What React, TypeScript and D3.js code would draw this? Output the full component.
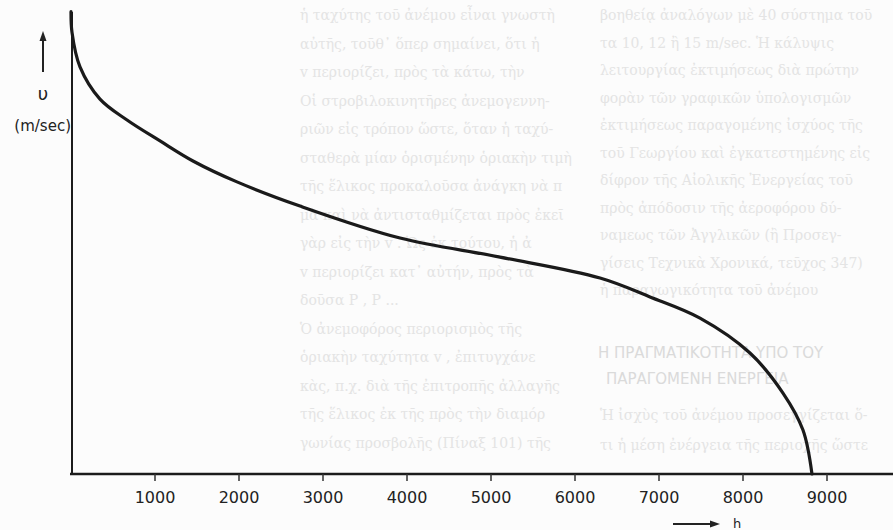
import React from "react";
import * as d3 from "d3";

// Velocity-duration curve: h (hours) vs υ (m/sec)
const hValues = [0, 12, 107, 345, 667, 1060, 1452, 1976, 2726, 3917, 5107, 6298, 6893, 7488, 8083, 8476, 8714, 8821];
const vValues = [20.1, 19.2, 17.7, 16.3, 15.39, 14.48, 13.61, 12.7, 11.65, 10.26, 9.43, 8.52, 7.7, 6.78, 5.26, 3.52, 1.91, 0];
const xTicks = [1000, 2000, 3000, 4000, 5000, 6000, 7000, 8000, 9000];
const yLabel = "υ";
const yUnit = "(m/sec)";
const xLabel = "h";

// faint show-through text of the printed page
const midColumn = [
  "ἡ ταχύτης τοῦ ἀνέμου εἶναι γνωστὴ",
  "αὐτῆς, τοῦθ᾽ ὅπερ σημαίνει, ὅτι ἡ",
  "v  περιορίζει, πρὸς τὰ κάτω, τὴν",
  "  Οἱ στροβιλοκινητῆρες ἀνεμογεννη-",
  "ριῶν εἰς τρόπον ὥστε, ὅταν ἡ ταχύ-",
  "σταθερὰ μίαν ὁρισμένην ὁριακὴν τιμὴ",
  "τῆς ἕλικος προκαλοῦσα ἀνάγκη νὰ π",
  "μὰ καὶ νὰ ἀντισταθμίζεται πρὸς ἐκεῖ",
  "γὰρ εἰς τὴν v  . Ὡς ἐκ τούτου, ἡ ἀ",
  "v     περιορίζει κατ᾽ αὐτήν, πρὸς τὰ",
  "δοῦσα P , P ...",
  "  Ὁ ἀνεμοφόρος περιορισμὸς τῆς",
  "ὁριακὴν ταχύτητα v   , ἐπιτυγχάνε",
  "κὰς, π.χ. διὰ τῆς ἐπιτροπῆς ἀλλαγῆς",
  "τῆς ἕλικος ἐκ τῆς πρὸς τὴν διαμόρ",
  "γωνίας προσβολῆς (Πίναξ 101) τῆς",
];
const rightColumn = [
  "βοηθείᾳ ἀναλόγων μὲ 40 σύστημα τοῦ",
  "τα 10, 12 ἢ 15 m/sec. Ἡ κάλυψις",
  "λειτουργίας ἐκτιμήσεως διὰ πρώτην",
  "φορὰν τῶν γραφικῶν ὑπολογισμῶν",
  "ἐκτιμήσεως παραγομένης ἰσχύος τῆς",
  "τοῦ Γεωργίου καὶ ἐγκατεστημένης εἰς",
  "δίφρον τῆς Αἰολικῆς Ἐνεργείας τοῦ",
  "πρὸς ἀπόδοσιν τῆς ἀεροφόρου δύ-",
  "ναμεως τῶν Ἀγγλικῶν (ἢ Προσεγ-",
  "γίσεις Τεχνικὰ Χρονικά, τεῦχος 347)",
  "ἡ παραγωγικότητα τοῦ ἀνέμου",
];
const headings = ["Η ΠΡΑΓΜΑΤΙΚΟΤΗΤΑ ΥΠΟ ΤΟΥ", "ΠΑΡΑΓΟΜΕΝΗ ΕΝΕΡΓΕΙΑ"];
const rightLower = [
  "Ἡ ἰσχὺς τοῦ ἀνέμου προσεγγίζεται ὅ-",
  "τι ἡ μέση ἐνέργεια τῆς περιοχῆς ὥστε",
];

const W = 893;
const H = 530;

export default function App() {
  const x = d3.scaleLinear().domain([0, 10000]).range([71, 911]);
  const y = d3.scaleLinear().domain([0, 20]).range([474, 14]);
  const data = hValues.map((h, i) => ({ h, v: vValues[i] }));
  const line = d3
    .line<{ h: number; v: number }>()
    .x((d) => x(d.h))
    .y((d) => y(d.v))
    .curve(d3.curveCatmullRom.alpha(0.5));

  const faint = "#e4e4e4";
  const axisY = y(0);
  const axisX = x(0) + 1;

  return (
    <svg
      width={W}
      height={H}
      style={{ position: "absolute", left: 0, top: 0, background: "#fff" }}
      fontFamily="DejaVu Sans, sans-serif"
    >
      <rect x={0} y={0} width={W} height={H} fill="#fcfcfc" />
      {/* show-through text */}
      <g fill={faint} fontFamily="DejaVu Serif, serif" fontSize={14}>
        {midColumn.map((t, i) => (
          <text key={"m" + i} x={300} y={20 + i * 28.5}>
            {t}
          </text>
        ))}
        {rightColumn.map((t, i) => (
          <text key={"r" + i} x={600} y={20 + i * 27.5}>
            {t}
          </text>
        ))}
        {headings.map((t, i) => (
          <text key={"h" + i} x={598 + i * 8} y={358 + i * 26} fontFamily="DejaVu Sans, sans-serif" fontSize={15} fill="#dadada">
            {t}
          </text>
        ))}
        {rightLower.map((t, i) => (
          <text key={"rl" + i} x={600} y={420 + i * 30}>
            {t}
          </text>
        ))}
      </g>

      {/* axes */}
      <line x1={axisX} y1={12} x2={axisX} y2={axisY + 1} stroke="#1c1c1c" strokeWidth={2} />
      <line x1={70} y1={axisY} x2={W} y2={axisY} stroke="#1c1c1c" strokeWidth={2.4} />
      {xTicks.map((t) => (
        <g key={t}>
          <line x1={x(t)} y1={axisY} x2={x(t)} y2={axisY + 7} stroke="#333" strokeWidth={1.5} />
          <text x={x(t)} y={503} textAnchor="middle" fontSize={16} fill="#222">
            {t}
          </text>
        </g>
      ))}

      {/* curve */}
      <path d={line(data) || ""} fill="none" stroke="#1a1a1a" strokeWidth={3.2} strokeLinecap="round" />

      {/* y label */}
      <line x1={43} y1={72} x2={43} y2={38} stroke="#222" strokeWidth={2} />
      <polygon points="43,31 39.5,41 46.5,41" fill="#222" />
      <text x={43} y={100} textAnchor="middle" fontSize={18} fill="#222">
        {yLabel}
      </text>
      <text x={71} y={131} textAnchor="end" fontSize={15} fill="#222">
        {yUnit}
      </text>

      {/* x label */}
      <line x1={673} y1={524} x2={712} y2={524} stroke="#222" strokeWidth={1.8} />
      <polygon points="720,524 710,520.5 710,527.5" fill="#222" />
      <text x={737} y={528} textAnchor="middle" fontSize={13} fill="#222">
        {xLabel}
      </text>
    </svg>
  );
}
